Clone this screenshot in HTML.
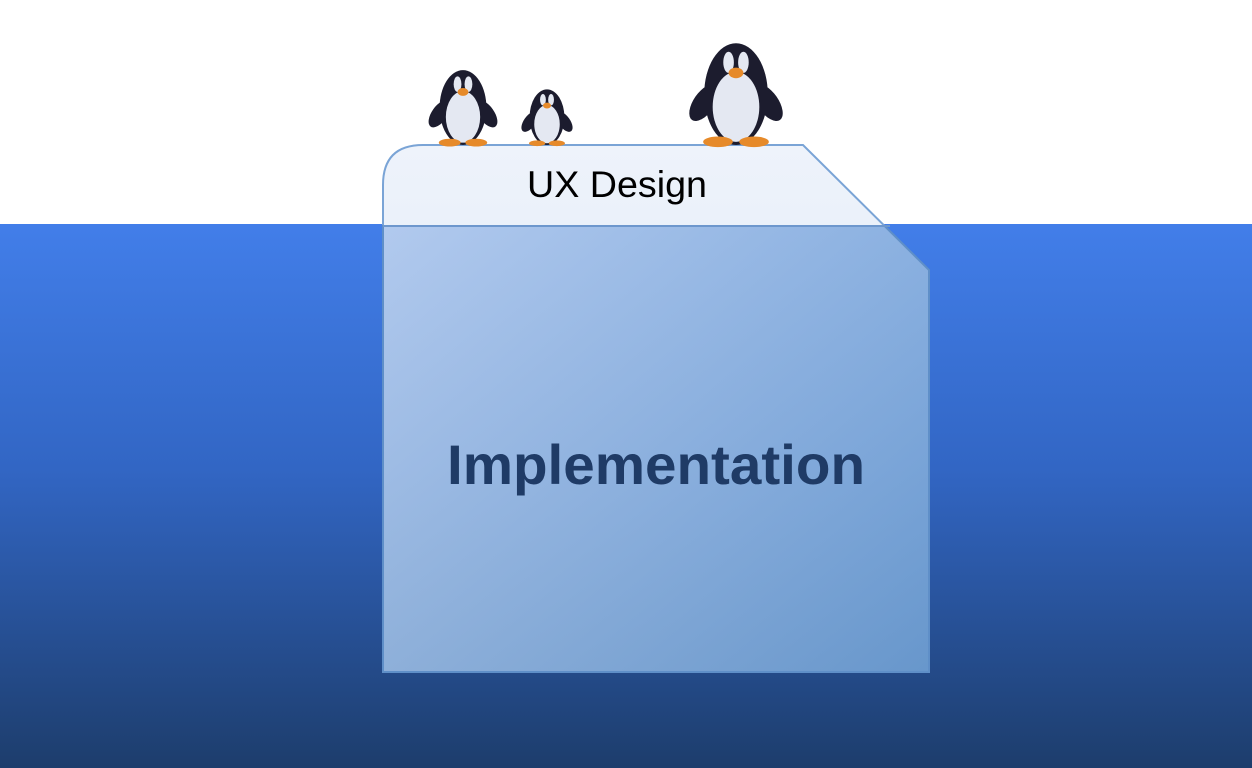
<!DOCTYPE html>
<html><head><style>
html,body{margin:0;padding:0;width:1252px;height:768px;overflow:hidden;background:#fff}
</style></head><body>
<svg width="1252" height="768" viewBox="0 0 1252 768" xmlns="http://www.w3.org/2000/svg">
<defs>
<linearGradient id="sea" x1="0" y1="0" x2="0" y2="1">
<stop offset="0" stop-color="#427ee9"/><stop offset="0.45" stop-color="#3266c4"/><stop offset="1" stop-color="#1d3d6c"/>
</linearGradient>
<linearGradient id="ice" x1="0" y1="0" x2="1" y2="1">
<stop offset="0" stop-color="#c4d6f1"/><stop offset="1" stop-color="#6f9fd3"/>
</linearGradient>
<linearGradient id="top" x1="0" y1="0" x2="0" y2="1">
<stop offset="0" stop-color="#eef3fb"/><stop offset="1" stop-color="#d7e4f4"/>
</linearGradient>
<clipPath id="above"><rect x="0" y="0" width="1252" height="225"/></clipPath>
<clipPath id="below"><rect x="0" y="225" width="1252" height="600"/></clipPath>
<g id="peng">
<ellipse cx="0" cy="-0.48" rx="0.3" ry="0.48" fill="#1c1c2e"/>
<ellipse cx="-0.3" cy="-0.4" rx="0.1" ry="0.2" fill="#1c1c2e" transform="rotate(35 -0.3 -0.4)"/>
<ellipse cx="0.3" cy="-0.4" rx="0.1" ry="0.2" fill="#1c1c2e" transform="rotate(-35 0.3 -0.4)"/>
<ellipse cx="0" cy="-0.36" rx="0.22" ry="0.33" fill="#e4e8f2"/>
<ellipse cx="-0.07" cy="-0.78" rx="0.05" ry="0.1" fill="#e4e8f2"/>
<ellipse cx="0.07" cy="-0.78" rx="0.05" ry="0.1" fill="#e4e8f2"/>
<ellipse cx="0" cy="-0.68" rx="0.07" ry="0.05" fill="#e68a2a"/>
<ellipse cx="-0.17" cy="-0.03" rx="0.14" ry="0.05" fill="#e68a2a"/>
<ellipse cx="0.17" cy="-0.03" rx="0.14" ry="0.05" fill="#e68a2a"/>
</g>
</defs>
<rect x="0" y="224" width="1252" height="544" fill="url(#sea)"/>
<path d="M383,672 L383,185 Q383,145 423,145 L803,145 L929,270 L929,672 Z" fill="url(#ice)" fill-opacity="0.9" stroke="#5f8fc8" stroke-width="2" clip-path="url(#below)"/>
<path d="M383,672 L383,185 Q383,145 423,145 L803,145 L929,270 L929,672 Z" fill="url(#top)" stroke="#7aa4d6" stroke-width="2" clip-path="url(#above)"/>
<line x1="383" y1="226" x2="890" y2="226" stroke="#6d97cd" stroke-width="2"/>
<g transform="translate(463,145) scale(78,78)"><use href="#peng"/></g>
<g transform="translate(547,145) scale(58,58)"><use href="#peng"/></g>
<g transform="translate(736,145) scale(106,106)"><use href="#peng"/></g>
<text x="617" y="197" text-anchor="middle" font-family="Liberation Sans, sans-serif" font-size="37" fill="#000" textLength="180" lengthAdjust="spacingAndGlyphs">UX Design</text>
<text x="656" y="484" text-anchor="middle" font-family="Liberation Sans, sans-serif" font-weight="bold" font-size="56" fill="#1f3b66" textLength="418" lengthAdjust="spacingAndGlyphs">Implementation</text>
</svg>
</body></html>
